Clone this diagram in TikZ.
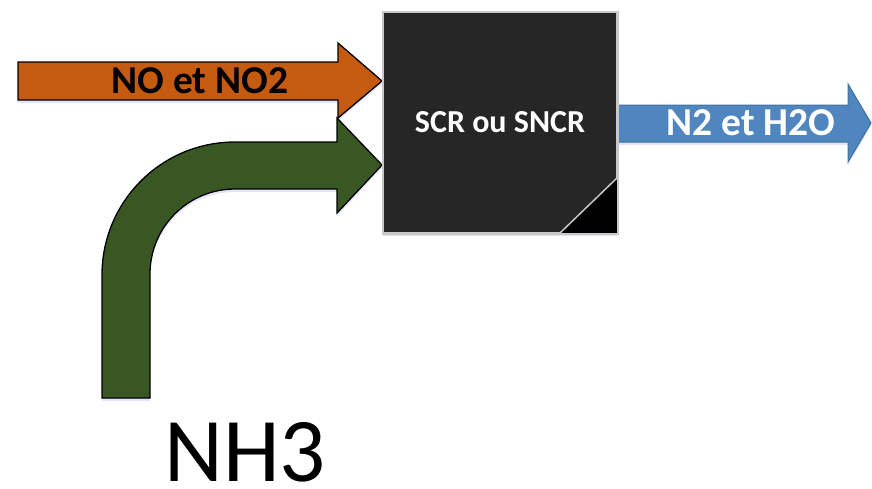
\documentclass[tikz,border=0pt]{standalone}
\usepackage{fontspec}
\setmainfont{Carlito}
\usetikzlibrary{shadows}
\definecolor{orangearrow}{HTML}{C55A11}
\definecolor{greenarrow}{HTML}{385723}
\definecolor{bluearrow}{HTML}{4F86C0}
\definecolor{blueedge}{HTML}{41719C}
\definecolor{boxfill}{HTML}{262626}
\definecolor{boxedge}{HTML}{C8C8C8}
\tikzset{
  glow/.style={drop shadow={shadow xshift=0pt, shadow yshift=-3pt, fill=blue!30, opacity=.35}},
  arrowshape/.style={line width=1.3pt, line join=miter, glow},
  box/.style={draw=boxedge, fill=boxfill, line width=1.5pt, inner sep=0pt, text=white,
    font=\bfseries\fontsize{32}{34}\selectfont, glow},
  lbl/.style={inner sep=0pt, font=\bfseries\fontsize{39.5}{41}\selectfont}
}
\begin{document}
\begin{tikzpicture}[x=1pt,y=-1pt]
\useasboundingbox (0,0) rectangle (872,488);
% orange arrow
\draw[arrowshape, fill=orangearrow, draw=black]
  (18,62) -- (338,62) -- (338,43) -- (382,81) -- (338,118) -- (338,100) -- (18,100) -- cycle;
% green bent arrow
\draw[arrowshape, fill=greenarrow, draw=black]
  (102,398) -- (102,275) .. controls (102,201.5) and (161.5,142) .. (235,142)
  -- (337,142) -- (337,118) -- (382,165) -- (337,213) -- (337,189) -- (235,189)
  .. controls (188,189) and (150,227) .. (150,274) -- (150,398) -- cycle;
% blue arrow
\draw[arrowshape, fill=bluearrow, draw=blueedge, line width=1pt]
  (617,105) -- (848,105) -- (848,84) -- (871,123) -- (848,162) -- (848,142) -- (617,142) -- cycle;
% box
\node[box, minimum width=234pt, minimum height=221pt] (scr) at (500,122.5) {SCR ou SNCR};
\fill[black] (617,178) -- (617,233) -- (560,233) -- cycle;
\draw[boxedge, line width=1.5pt] (560,233) -- (617,178);
\draw[boxedge, line width=1.5pt] (scr.north west) rectangle (scr.south east);
% labels
\node[lbl, text=black] (noin) at (200,81) {NO et NO2};
\node[lbl, text=white] (out) at (751,123) {N2 et H2O};
\node[inner sep=0pt, anchor=base, font=\fontsize{91}{93}\selectfont] (nh3) at (245,481) {NH3};
\end{tikzpicture}
\end{document}
